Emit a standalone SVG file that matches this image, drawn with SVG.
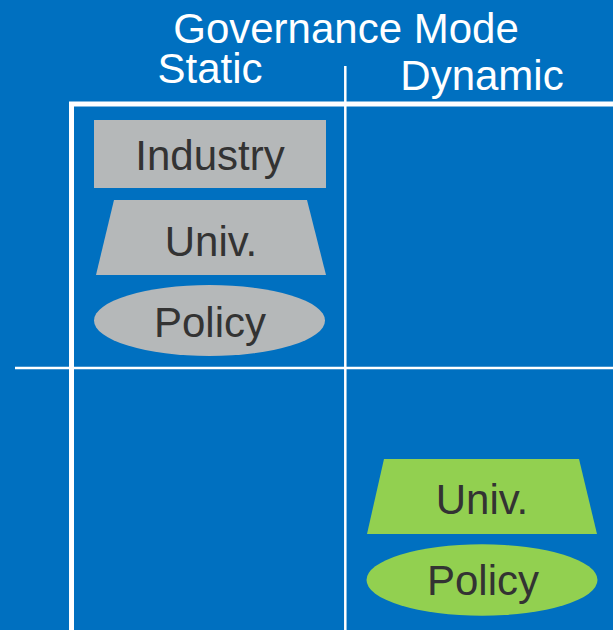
<svg xmlns="http://www.w3.org/2000/svg" width="613" height="630" viewBox="0 0 613 630">
<style>
.hd{font-family:"Liberation Sans",Arial,sans-serif;font-size:42px;fill:#ffffff;text-anchor:middle}
.lb{font-family:"Liberation Sans",Arial,sans-serif;font-size:42px;fill:#333333;text-anchor:middle}
.gray{fill:#B5B8B9}
.green{fill:#92D050}
.thick{stroke:#ffffff;stroke-width:5;fill:none}
.thin{stroke:#ffffff;stroke-width:2.5;fill:none}
</style>
<rect x="0" y="0" width="613" height="630" fill="#0070C0"/>
<g id="axes">
<path class="thick" d="M71.5 630 V104 H613"/>
<line class="thin" x1="345.3" y1="66" x2="345.3" y2="630"/>
<line class="thin" x1="15" y1="368" x2="613" y2="368"/>
</g>
<g id="titles">
<text class="hd" x="346" y="43">Governance Mode</text>
<text class="hd" x="210" y="83">Static</text>
<text class="hd" x="482" y="90">Dynamic</text>
</g>
<g id="connectors"></g>
<g id="static-industry">
<rect class="gray" x="94" y="120" width="232" height="68"/>
<text class="lb" x="210" y="170">Industry</text>
</g>
<g id="static-univ">
<polygon class="gray" points="114,200 307,200 326,275 96,275"/>
<text class="lb" x="211" y="256">Univ.</text>
</g>
<g id="static-policy">
<ellipse class="gray" cx="209.5" cy="320.5" rx="115.5" ry="35.5"/>
<text class="lb" x="210" y="337">Policy</text>
</g>
<g id="dynamic-univ">
<polygon class="green" points="384,459 579,459 597,534 367,534"/>
<text class="lb" x="482" y="514">Univ.</text>
</g>
<g id="dynamic-policy">
<ellipse class="green" cx="482" cy="580" rx="115.5" ry="35.7"/>
<text class="lb" x="483" y="595">Policy</text>
</g>
</svg>
